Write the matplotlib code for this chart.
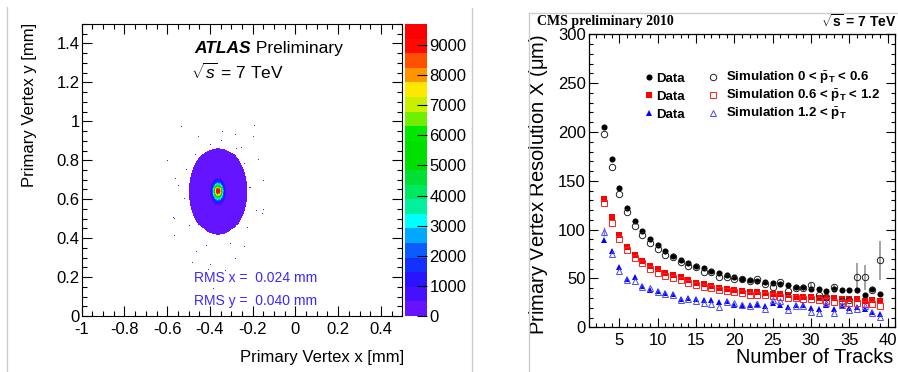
import numpy as np
import matplotlib
matplotlib.use("Agg")
import matplotlib.pyplot as plt
from matplotlib.colors import ListedColormap, BoundaryNorm
from matplotlib.lines import Line2D
from matplotlib.ticker import MultipleLocator

plt.rcParams["font.family"] = ["Liberation Sans", "DejaVu Sans"]
plt.rcParams["mathtext.fontset"] = "custom"
plt.rcParams["mathtext.rm"] = "Liberation Sans"
plt.rcParams["mathtext.it"] = "Liberation Sans:italic"
plt.rcParams["mathtext.bf"] = "Liberation Sans:bold"

# --- ATLAS beam spot (primary vertex x-y distribution) ---
beam_x, beam_y = -0.362, 0.640
core_peak, core_sigma_x, core_sigma_y = 9500, 0.0143, 0.027
halo_peak, halo_sigma_x, halo_sigma_y = 300, 0.041, 0.066
stray_x = [-0.532, -0.345, -0.192, -0.450, -0.283, -0.197, -0.584, -0.598,
           -0.174, -0.251, -0.150, -0.155, -0.134, -0.568, -0.568, -0.236,
           -0.485, -0.408, -0.329, -0.282, -0.384, -0.548, -0.181, -0.462,
           -0.563, -0.150, -0.400, -0.520, -0.510, -0.240, -0.210, -0.220,
           -0.500, -0.300, -0.420, -0.350, -0.400, -0.280, -0.470, -0.571]
stray_y = [0.971, 0.949, 0.976, 0.920, 0.932, 0.920, 0.843, 0.797,
           0.804, 0.868, 0.547, 0.527, 0.465, 0.501, 0.415, 0.359,
           0.270, 0.239, 0.232, 0.296, 0.142, 0.672, 0.544, 0.330,
           0.706, 0.697, 0.262, 0.600, 0.750, 0.780, 0.660, 0.450,
           0.460, 0.370, 0.360, 0.900, 0.880, 0.860, 0.830, 0.509]
rms_x, rms_y = 0.024, 0.040
z_max = 9700
palette = ["#6414ff", "#4410ff", "#2a14ff", "#1430ff", "#0a5cff",
           "#00a8ff", "#00ffff", "#00f0a0", "#00e860", "#00e034",
           "#00e000", "#00e000", "#00e800", "#70f000", "#c8f000",
           "#ffe800", "#ff9400", "#ff5000", "#ff0a00", "#ff0000"]

# --- CMS primary vertex resolution vs number of tracks ---
n_tracks = np.arange(3, 40)
data_low = [205, 172, 143, 122, 109, 99, 90, 84, 78, 73, 69, 66, 63, 60.5,
            58, 55.5, 53.5, 51, 49, 48.5, 47, 46.5, 45.5, 44, 43, 41, 41.5,
            39.5, 39, 37, 39, 38, 38, 38, 33, 39.5, 34]
sim_low = [198, 164.5, 136, 118.5, 104, 94, 86, 80, 74, 71.5, 67, 63, 62, 57,
           56.5, 52, 52, 49.5, 49, 47.5, 49, 44.5, 41, 46, 37, 40, 40, 43,
           33, 31, 41, 27, 28, 52, 51, 38, 68.5]
sim_low_err = [0, 0, 0, 0, 0, 0, 0, 0, 0, 0, 0, 0, 0, 0, 0, 0, 0, 0, 0, 0, 0,
               0, 0, 0, 0, 0, 0, 2, 0, 0, 3, 0, 0, 13.5, 13, 0, 20]
data_mid = [131, 112.5, 94, 82, 74, 68, 63, 59.5, 56, 53.5, 51, 48.5, 45.5,
            44, 42, 40.5, 39, 38.5, 37.5, 36.5, 36, 35, 34, 34, 33, 31.5,
            31.5, 31, 30.5, 30, 29.5, 29, 28.5, 28.5, 27, 28, 26.5]
sim_mid = [127.5, 107, 90.5, 79, 70.5, 65.5, 60, 56, 52.5, 50.5, 48.5, 45.5,
           43.5, 41.5, 40, 38.5, 37, 36, 35, 33, 33, 33, 32, 31, 30.5, 29.5,
           29, 29, 28, 27, 26, 25, 25, 24.5, 24, 23.5, 22]
data_high = [89, 78, 61.5, 49.5, 51, 42.5, 38.5, 37, 35, 34, 28.5, 30, 28.5,
             28, 28, 26, 27, 22.5, 22.5, 23, 24, 22, 25, 22.5, 21, 23, 22.5,
             19.5, 18.5, 22.5, 18.5, 22, 19.5, 20.5, 18.5, 16, 14]
sim_high = [98, 75.5, 58, 48.5, 47.5, 41.5, 40.5, 36.5, 34, 33, 28, 29, 27,
            24.5, 24, 20.5, 25.5, 25, 22.5, 22, 23.5, 18.5, 27.5, 26.5, 17.5,
            21.5, 21.5, 16, 15, 25, 15, 23, 18, 19, 21.5, 15, 11]
sim_high_err = [5] + [0] * 36

W, H = 898, 372
fig = plt.figure(figsize=(W / 100, H / 100), dpi=100)


def fig_rect(left, top, right, bottom):
    return [left / W, 1 - bottom / H, (right - left) / W, (bottom - top) / H]


# ---------------- left panel ----------------
ax1 = fig.add_axes(fig_rect(81.7, 24, 402.3, 316))
x_edges = np.linspace(-1, 0.5, 301)
y_edges = np.linspace(0, 1.5, 301)
xc = 0.5 * (x_edges[1:] + x_edges[:-1])
yc = 0.5 * (y_edges[1:] + y_edges[:-1])
X, Y = np.meshgrid(xc, yc)
core = core_peak * np.exp(-0.5 * (((X - beam_x) / core_sigma_x) ** 2 +
                                  ((Y - beam_y) / core_sigma_y) ** 2))
halo = halo_peak * np.exp(-0.5 * (((X - beam_x) / halo_sigma_x) ** 2 +
                                  ((Y - beam_y) / halo_sigma_y) ** 2))
counts = np.floor(core + halo)
stray, _, _ = np.histogram2d(stray_y, stray_x, bins=[y_edges, x_edges])
counts = np.ma.masked_less(counts + stray, 1)

cmap = ListedColormap(palette)
norm = BoundaryNorm(np.linspace(0, z_max, len(palette) + 1), len(palette))
mesh = ax1.pcolormesh(x_edges, y_edges, counts, cmap=cmap, norm=norm)

ax1.set_xlim(-1, 0.5)
ax1.set_ylim(0, 1.5)
ax1.xaxis.set_minor_locator(MultipleLocator(0.05))
ax1.yaxis.set_minor_locator(MultipleLocator(0.05))
ax1.set_xticks(np.arange(-1, 0.41, 0.2))
ax1.set_xticklabels(["-1", "-0.8", "-0.6", "-0.4", "-0.2", "0", "0.2", "0.4"])
ax1.set_yticks(np.arange(0, 1.41, 0.2))
ax1.set_yticklabels(["0", "0.2", "0.4", "0.6", "0.8", "1", "1.2", "1.4"])
ax1.tick_params(which="both", direction="in", top=True, right=True,
                labelsize=12, width=0.8)
ax1.tick_params(which="major", length=7)
ax1.tick_params(which="minor", length=3.5)
ax1.tick_params(axis="y", pad=1.5)
ax1.tick_params(axis="x", pad=4)

ax1.set_xlabel("Primary Vertex x [mm]", fontsize=12, loc="right")
ax1.xaxis.set_label_coords(1.005, -0.115)
ax1.set_ylabel("Primary Vertex y [mm]", fontsize=12, loc="top")
ax1.yaxis.set_label_coords(-0.14, 1.005)

atlas = ax1.text(-0.473, 1.376, "ATLAS", fontsize=12.5, fontweight="bold",
                 fontstyle="italic", va="center")
ax1.annotate(" Preliminary", xy=(1, 0), xycoords=atlas, va="bottom",
             fontsize=12.5)
ax1.text(-0.49, 1.253, r"$\sqrt{s}$ = 7 TeV", fontsize=12.5, va="center")
ax1.text(-0.473, 0.193, f"RMS x =  {rms_x:.3f} mm", fontsize=10,
         color="#3c28ff", va="center")
ax1.text(-0.473, 0.077, f"RMS y =  {rms_y:.3f} mm", fontsize=10,
         color="#3c28ff", va="center")

cax = fig.add_axes(fig_rect(405, 24, 426.7, 316))
cb = fig.colorbar(mesh, cax=cax, ticks=np.arange(0, 9001, 1000))
cb.outline.set_visible(False)
cax.tick_params(direction="in", length=7, width=0.8, labelsize=12, pad=2,
                right=True, left=False)
cax.minorticks_off()

# ---------------- right panel ----------------
ax2 = fig.add_axes(fig_rect(588.6, 34.3, 895.2, 327.3))

ax2.errorbar(n_tracks, sim_low, yerr=sim_low_err, fmt="none",
             ecolor="#8c8c8c", elinewidth=1.1, capsize=0)
ax2.errorbar(n_tracks, sim_high, yerr=sim_high_err, fmt="none",
             ecolor="#8080ff", elinewidth=1.0, capsize=0)

h1, = ax2.plot(n_tracks, data_low, "o", color="black", ms=4.4, mew=0,
               label="Data")
h2, = ax2.plot(n_tracks, data_mid, "s", color="#ff0000", ms=4.6, mew=0,
               label="Data")
h3, = ax2.plot(n_tracks, data_high, "^", color="#0000ff", ms=4.8, mew=0,
               label="Data")
s1, = ax2.plot(n_tracks, sim_low, "o", mfc="none", mec="#202020", ms=4.6,
               mew=0.7, label=r"Simulation 0 < $\bar{\mathbf{p}}_{\mathbf{T}}$ < 0.6")
s2, = ax2.plot(n_tracks, sim_mid, "s", mfc="none", mec="#ff2020", ms=4.6,
               mew=0.7, label=r"Simulation 0.6 < $\bar{\mathbf{p}}_{\mathbf{T}}$ < 1.2")
s3, = ax2.plot(n_tracks, sim_high, "^", mfc="none", mec="#4a4aff", ms=5.0,
               mew=0.7, label=r"Simulation 1.2 < $\bar{\mathbf{p}}_{\mathbf{T}}$")

# two legend columns, each placed on its own so the rows line up
leg_data = ax2.legend(handles=[h1, h2, h3], loc="upper left",
                      bbox_to_anchor=(0.181, 0.869), frameon=False,
                      prop={"weight": "bold", "size": 9.5}, handlelength=0.8,
                      handletextpad=0.1, labelspacing=0.43,
                      borderpad=0, borderaxespad=0)
ax2.add_artist(leg_data)
ax2.legend(handles=[s1, s2, s3], loc="upper left",
           bbox_to_anchor=(0.3875, 0.879), frameon=False,
           prop={"weight": "bold", "size": 9.5}, handlelength=0.8,
           handletextpad=0.6, labelspacing=0.11,
           borderpad=0, borderaxespad=0)

ax2.set_xlim(1, 41)
ax2.set_ylim(0, 300)
ax2.xaxis.set_major_locator(MultipleLocator(5))
ax2.xaxis.set_minor_locator(MultipleLocator(1))
ax2.yaxis.set_major_locator(MultipleLocator(50))
ax2.yaxis.set_minor_locator(MultipleLocator(10))
ax2.tick_params(which="both", direction="in", top=True, right=True,
                labelsize=12, width=0.8)
ax2.tick_params(which="major", length=6.5)
ax2.tick_params(which="minor", length=3.2)
ax2.tick_params(axis="y", pad=2)
ax2.tick_params(axis="x", pad=4)
for sp in ax2.spines.values():
    sp.set_linewidth(0.9)

ax2.set_xlabel("Number of Tracks", fontsize=14.3, loc="right")
ax2.xaxis.set_label_coords(0.994, -0.072)
ax2.set_ylabel(r"Primary Vertex Resolution X ($\mathrm{\mu}$m)",
               fontsize=14.5, loc="top")
ax2.yaxis.set_label_coords(-0.127, 1.0)

fig.text(536.7 / W, 1 - 22 / H, "CMS preliminary 2010",
         family="Liberation Serif", fontweight="bold", fontsize=10,
         va="center")
fig.text(896.5 / W, 1 - 22 / H, r"$\sqrt{\mathbf{s}}$ = 7 TeV",
         fontweight="bold", fontsize=10, va="center", ha="right")

# page separators and frame
grey = "#cdcdcd"
fig.add_artist(Line2D([7.3 / W] * 2, [0, 1 - 7 / H], color=grey, lw=1))
fig.add_artist(Line2D([472.3 / W] * 2, [0, 1 - 8 / H], color=grey, lw=1))
fig.add_artist(Line2D([529.3 / W] * 2, [0, 1 - 12.7 / H], color=grey, lw=1))
fig.add_artist(Line2D([529.3 / W, 1], [1 - 12.7 / H] * 2, color=grey, lw=1))

fig.savefig("out.png", dpi=100)
